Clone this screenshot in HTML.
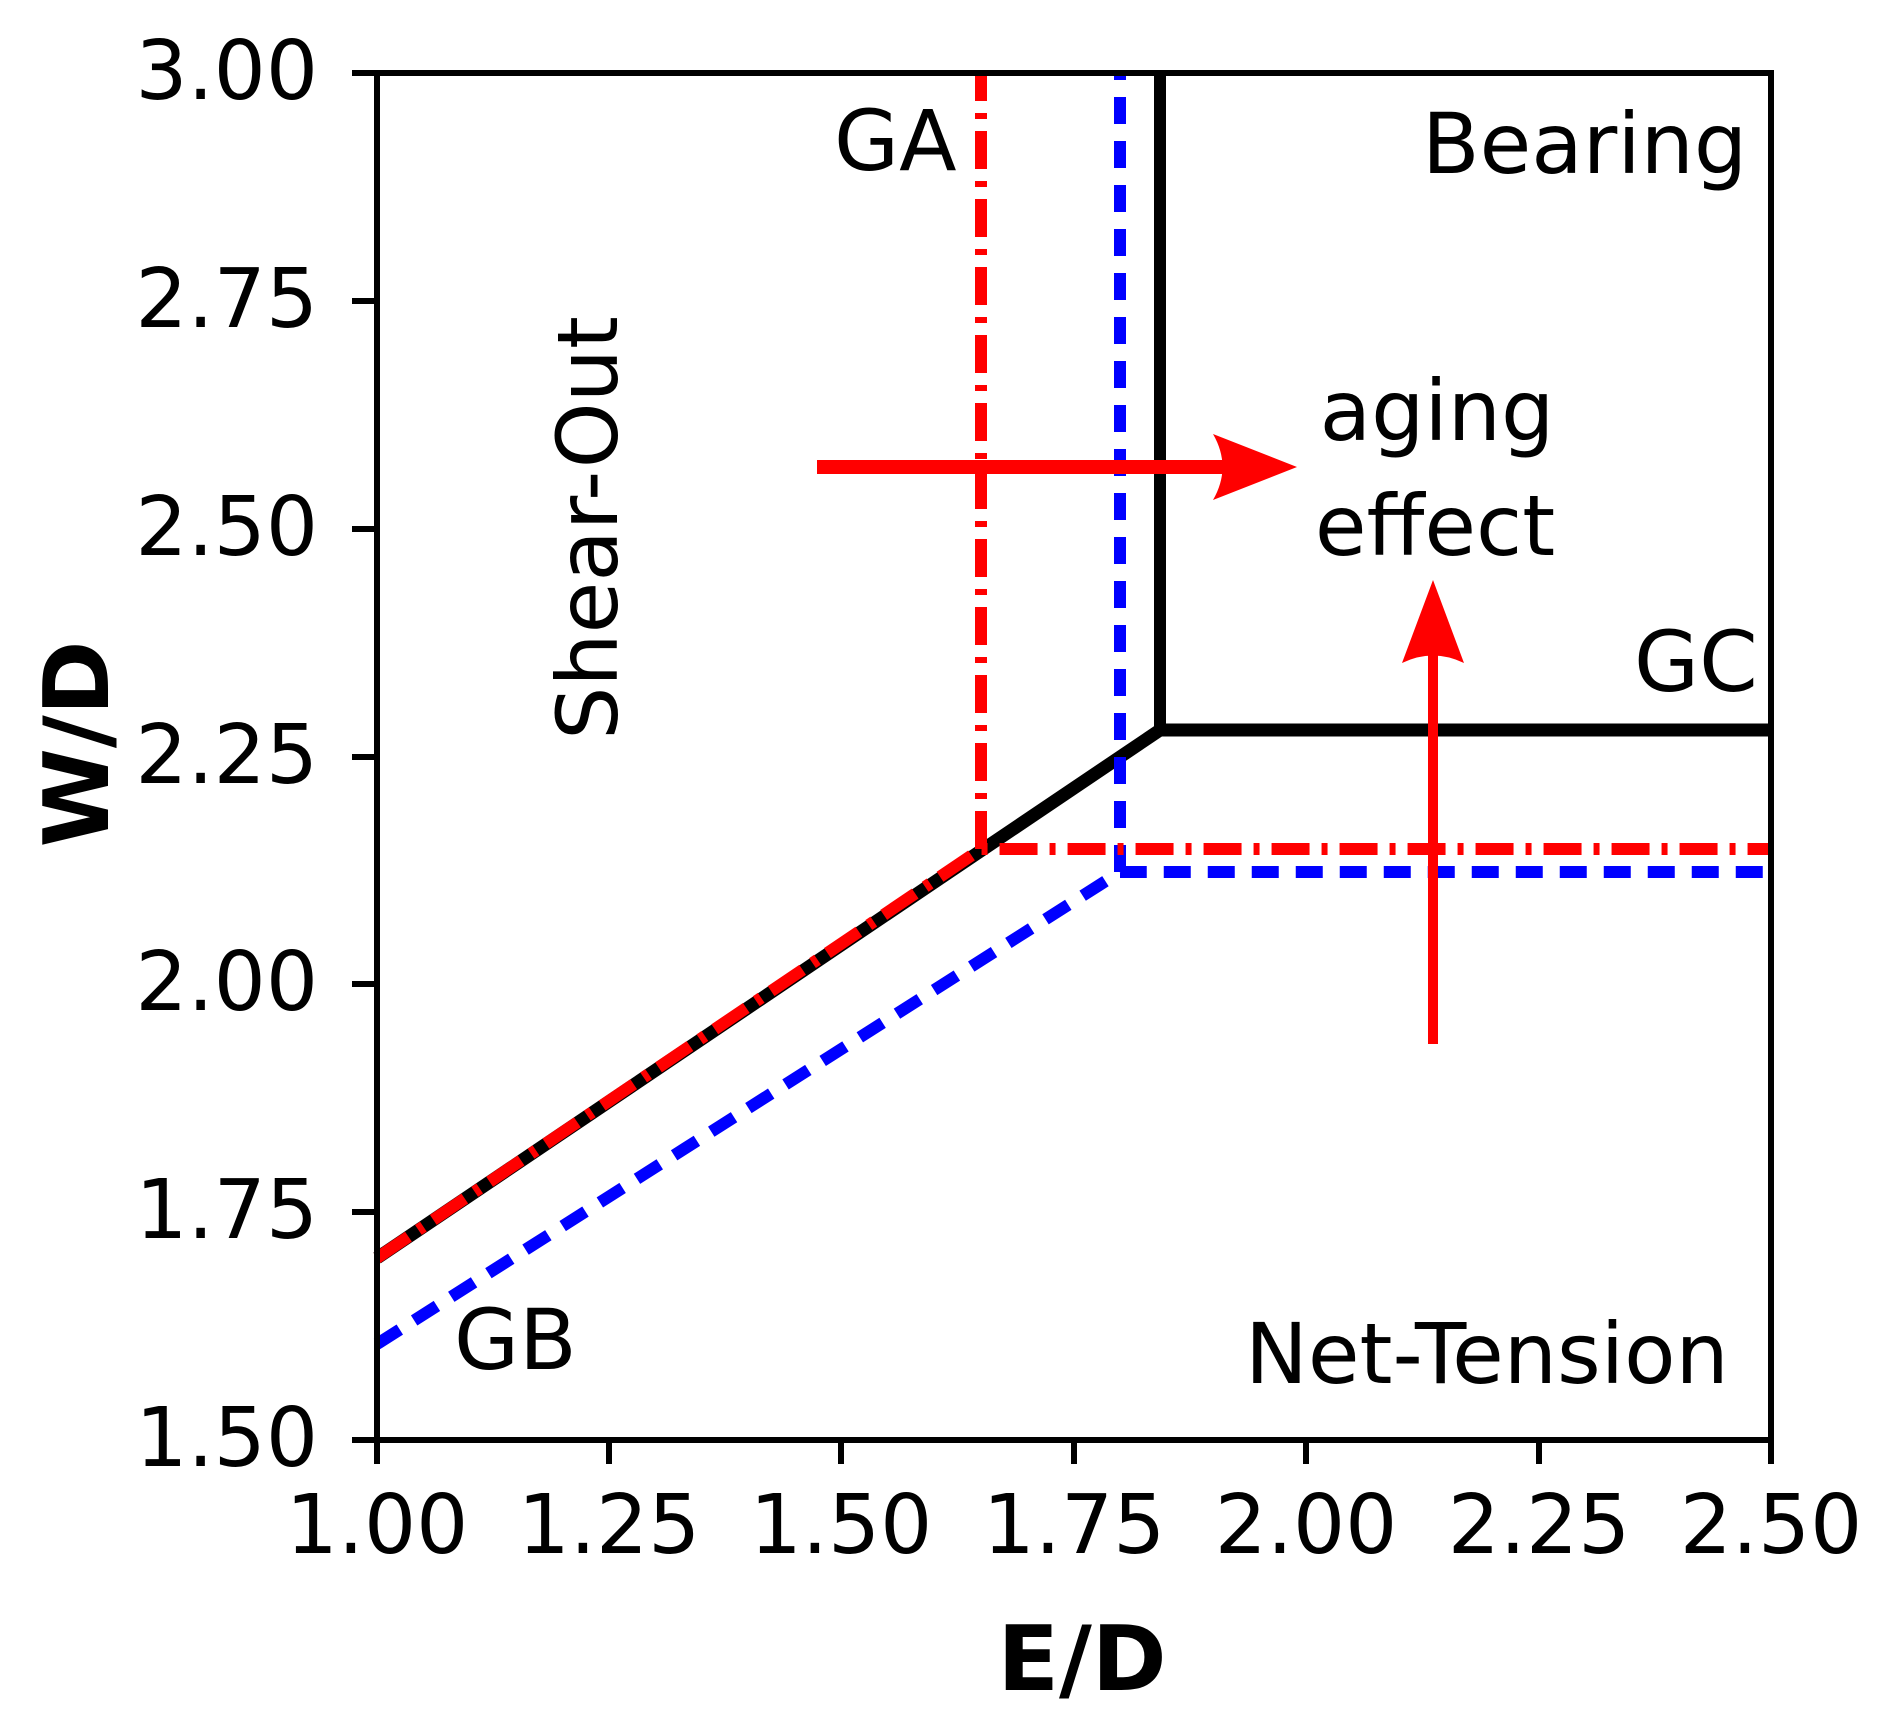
<!DOCTYPE html>
<html><head><meta charset="utf-8"><style>html,body{margin:0;padding:0;background:#fff}svg{display:block}</style></head>
<body>
<svg width="1886" height="1735" viewBox="0 0 1886 1735" xmlns="http://www.w3.org/2000/svg">
<g font-family="DejaVu Sans, Liberation Sans, sans-serif">
<!-- lines -->
<polyline points="377,1258 1160,730 1771,730" fill="none" stroke="#000" stroke-width="13"/>
<line x1="1160" y1="73" x2="1160" y2="730" stroke="#000" stroke-width="12"/>
<g stroke="#0000ff" stroke-width="12" fill="none" stroke-dasharray="27,17">
<polyline points="377,1344 1120,872 1771,872"/>
<line x1="1120" y1="872" x2="1120" y2="73"/>
</g>
<g stroke="#ff0000" stroke-width="12" fill="none" stroke-dasharray="38,12,6,12">
<polyline points="377,1258 981,849 1771,849"/>
<line x1="981" y1="849" x2="981" y2="73"/>
</g>
<!-- arrows -->
<line x1="817" y1="467" x2="1230" y2="467" stroke="#ff0000" stroke-width="14"/>
<path d="M1297,467 L1213,434 Q1232,467 1213,500 Z" fill="#ff0000"/>
<line x1="1433" y1="1044" x2="1433" y2="640" stroke="#ff0000" stroke-width="10"/>
<path d="M1433,580 L1402,663 Q1433,648 1464,663 Z" fill="#ff0000"/>
<!-- axes box -->
<rect x="377" y="73" width="1394" height="1367" fill="none" stroke="#000" stroke-width="6"/>
<!-- ticks -->
<g stroke="#000" stroke-width="6">
<line x1="352" y1="73" x2="377" y2="73"/><line x1="352" y1="301" x2="377" y2="301"/>
<line x1="352" y1="529" x2="377" y2="529"/><line x1="352" y1="757" x2="377" y2="757"/>
<line x1="352" y1="984" x2="377" y2="984"/><line x1="352" y1="1212" x2="377" y2="1212"/>
<line x1="352" y1="1440" x2="377" y2="1440"/>
<line x1="377" y1="1440" x2="377" y2="1464"/><line x1="609" y1="1440" x2="609" y2="1464"/>
<line x1="841" y1="1440" x2="841" y2="1464"/><line x1="1074" y1="1440" x2="1074" y2="1464"/>
<line x1="1306" y1="1440" x2="1306" y2="1464"/><line x1="1539" y1="1440" x2="1539" y2="1464"/>
<line x1="1771" y1="1440" x2="1771" y2="1464"/>
</g>
<g font-size="82" text-anchor="end" fill="#000">
<text x="318" y="99">3.00</text><text x="318" y="327">2.75</text>
<text x="318" y="555">2.50</text><text x="318" y="783">2.25</text>
<text x="318" y="1010">2.00</text><text x="318" y="1238">1.75</text>
<text x="318" y="1466">1.50</text>
</g>
<g font-size="82" text-anchor="middle" fill="#000">
<text x="377" y="1553">1.00</text><text x="609" y="1553">1.25</text>
<text x="841" y="1553">1.50</text><text x="1074" y="1553">1.75</text>
<text x="1306" y="1553">2.00</text><text x="1539" y="1553">2.25</text>
<text x="1771" y="1553">2.50</text>
</g>
<text x="1082" y="1690" font-size="90" font-weight="bold" text-anchor="middle">E/D</text>
<text transform="translate(108,744) rotate(-90)" font-size="90" font-weight="bold" text-anchor="middle">W/D</text>
<g font-size="84" fill="#000">
<text x="834" y="170">GA</text>
<text x="1422" y="173">Bearing</text>
<text x="1634" y="691">GC</text>
<text x="454" y="1369">GB</text>
<text x="1245" y="1383">Net-Tension</text>
<text x="1437" y="440" text-anchor="middle">aging</text>
<text x="1435" y="555" text-anchor="middle">effect</text>
<text transform="translate(617,528) rotate(-90)" text-anchor="middle">Shear-Out</text>
</g>
</g>
</svg>
</body></html>
